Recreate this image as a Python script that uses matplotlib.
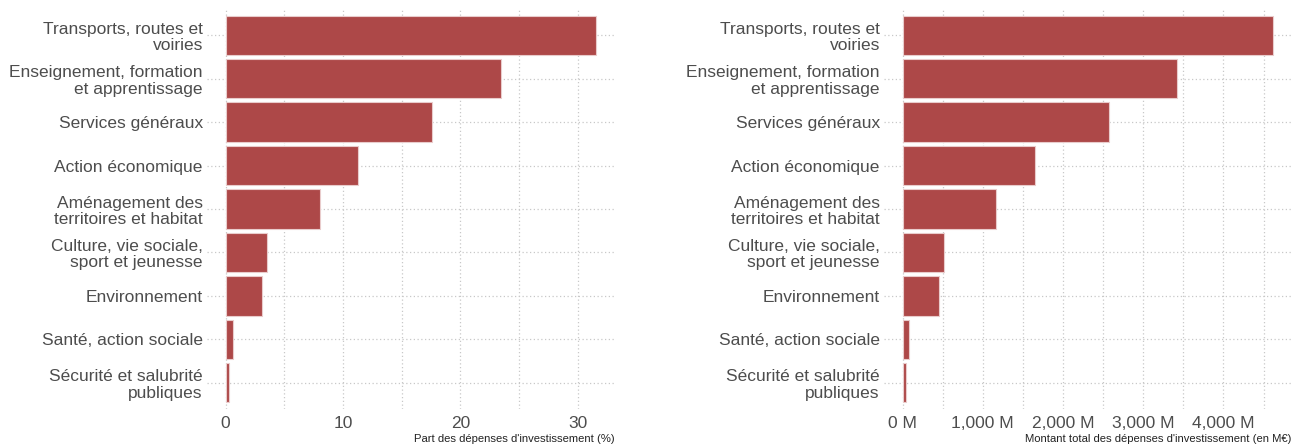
import matplotlib
matplotlib.use("Agg")
import matplotlib.pyplot as plt
from matplotlib.ticker import MultipleLocator, FuncFormatter

plt.rcParams["font.family"] = ["Liberation Sans", "DejaVu Sans"]

categories = [
    "Transports, routes et\nvoiries",
    "Enseignement, formation\net apprentissage",
    "Services généraux",
    "Action économique",
    "Aménagement des\nterritoires et habitat",
    "Culture, vie sociale,\nsport et jeunesse",
    "Environnement",
    "Santé, action sociale",
    "Sécurité et salubrité\npubliques",
]
share_pct = [31.6, 23.5, 17.6, 11.3, 8.05, 3.55, 3.1, 0.63, 0.32]
amount_meur = [4612, 3417, 2571, 1650, 1162, 512, 450, 83, 38]

bar_color = "#AD4848"
text_color = "#4D4D4D"

fig = plt.figure(figsize=(12.91, 4.44), dpi=100)
W, H = 1291, 444
ax1 = fig.add_axes([207 / W, (444 - 409) / H, (615 - 207) / W, (409 - 9) / H])
ax2 = fig.add_axes([884 / W, (444 - 409) / H, (1291 - 884) / W, (409 - 9) / H])

n = len(categories)
ypos = list(range(n))


def style(ax, values, major, minor, fmt, xlabel):
    ax.set_axisbelow(True)
    ax.barh(ypos, values, height=0.9, color=bar_color, edgecolor="#E9CCCC", linewidth=0.8)
    vmax = max(values)
    ax.set_xlim(-0.05 * vmax, 1.05 * vmax)
    ax.set_ylim(n - 1 + 0.6, -0.6)
    ax.set_yticks(ypos)
    ax.set_yticklabels(categories, ha="right", fontsize=12.5, color=text_color, linespacing=1.12)
    ax.xaxis.set_major_locator(MultipleLocator(major))
    ax.xaxis.set_minor_locator(MultipleLocator(minor))
    ax.xaxis.set_major_formatter(FuncFormatter(fmt))
    ax.tick_params(axis="both", which="both", length=0)
    ax.tick_params(axis="x", labelsize=12.5, labelcolor=text_color, pad=5)
    ax.tick_params(axis="y", pad=3)
    for s in ax.spines.values():
        s.set_visible(False)
    ax.grid(True, which="major", axis="both", color="#C8C8C8", linestyle=(0, (1, 2)), linewidth=0.9)
    ax.grid(True, which="minor", axis="x", color="#C8C8C8", linestyle=(0, (1, 2)), linewidth=0.9)
    ax.set_xlabel(xlabel, fontsize=8.1, color="#222222", loc="right", labelpad=2)


style(ax1, share_pct, 10, 5, lambda v, p: f"{v:.0f}",
      "Part des dépenses d'investissement (%)")
style(ax2, amount_meur, 1000, 500, lambda v, p: f"{v:,.0f} M",
      "Montant total des dépenses d'investissement (en M€)")

fig.savefig("out.png", dpi=100)
